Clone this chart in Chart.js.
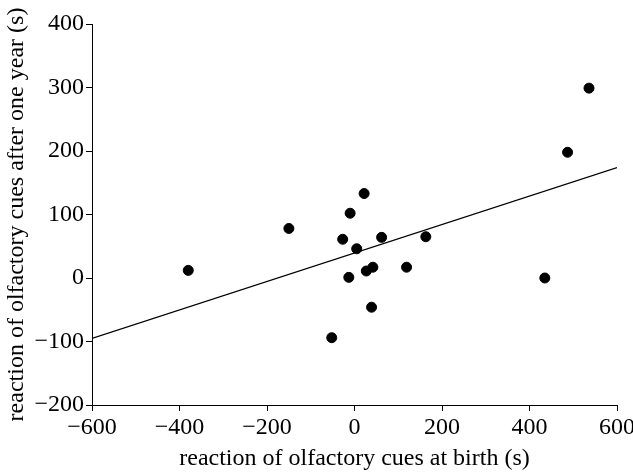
<!DOCTYPE html>
<html>
<head>
<meta charset="utf-8">
<title>olfactory cues</title>
<style>
  html, body { margin: 0; padding: 0; background: #fff; }
  #wrap { width: 633px; height: 473px; }
</style>
</head>
<body>
<div id="wrap"><canvas id="chart" width="633" height="473"></canvas></div>
<script src="https://cdn.jsdelivr.net/npm/chart.js"></script>
<script>
// reaction at birth (s) vs reaction after one year (s)
const birthX = [-380, -150, -27, -10, -13, 5, 22, 27, 42, 39, 62, 119, 163, -52, 435, 487, 536];
const yearY  = [12, 78, 61, 102, 1, 46, 133, 11, 17, -46, 64, 17, 65, -94, 0, 198, 299];

// fitted line end points
const fitX = [-600, 600];
const fitY = [-95, 174];

const xTicks = [-600, -400, -200, 0, 200, 400, 600];
const yTicks = [-200, -100, 0, 100, 200, 300, 400];

const FONT = 'Liberation Serif';

const axisStyle = {
  border: { display: true, color: '#000', width: 1 },
  grid: { display: true, drawOnChartArea: false, drawTicks: true, tickLength: 6, color: '#000', tickWidth: 1 },
  ticks: { color: '#000', font: { family: FONT, size: 24 }, padding: 2 },
  title: { display: true, color: '#000', font: { family: FONT, size: 24 } }
};

new Chart(document.getElementById('chart'), {
  type: 'scatter',
  data: {
    datasets: [
      {
        label: 'fit',
        type: 'line',
        data: fitX.map((x, i) => ({ x: x, y: fitY[i] })),
        borderColor: '#000',
        borderWidth: 1.2,
        pointRadius: 0,
        fill: false
      },
      {
        label: 'data',
        data: birthX.map((x, i) => ({ x: x, y: yearY[i] })),
        backgroundColor: '#000',
        borderColor: '#000',
        pointRadius: 5,
        pointHoverRadius: 5
      }
    ]
  },
  options: {
    responsive: false,
    animation: false,
    devicePixelRatio: 1,
    layout: { padding: { top: 24, right: 16, left: 2, bottom: 0 } },
    plugins: { legend: { display: false }, tooltip: { enabled: false } },
    scales: {
      x: {
        type: 'linear',
        min: -600, max: 600,
        afterBuildTicks: s => { s.ticks = xTicks.map(v => ({ value: v })); },
        afterFit: s => { s.height = 68; s.paddingRight = 0; },
        ...axisStyle,
        ticks: { ...axisStyle.ticks, callback: v => String(v).replace('-', '\u2212') },
        title: { ...axisStyle.title, text: 'reaction of olfactory cues at birth (s)', padding: { top: 0, bottom: 0 } }
      },
      y: {
        type: 'linear',
        min: -200, max: 400,
        afterBuildTicks: s => { s.ticks = yTicks.map(v => ({ value: v })); },
        afterFit: s => { s.width = 90; },
        ...axisStyle,
        ticks: { ...axisStyle.ticks, callback: v => String(v).replace('-', '\u2212') },
        title: { ...axisStyle.title, text: 'reaction of olfactory cues after one year (s)', padding: { top: 0, bottom: 0 } }
      }
    }
  }
});
</script>
</body>
</html>
